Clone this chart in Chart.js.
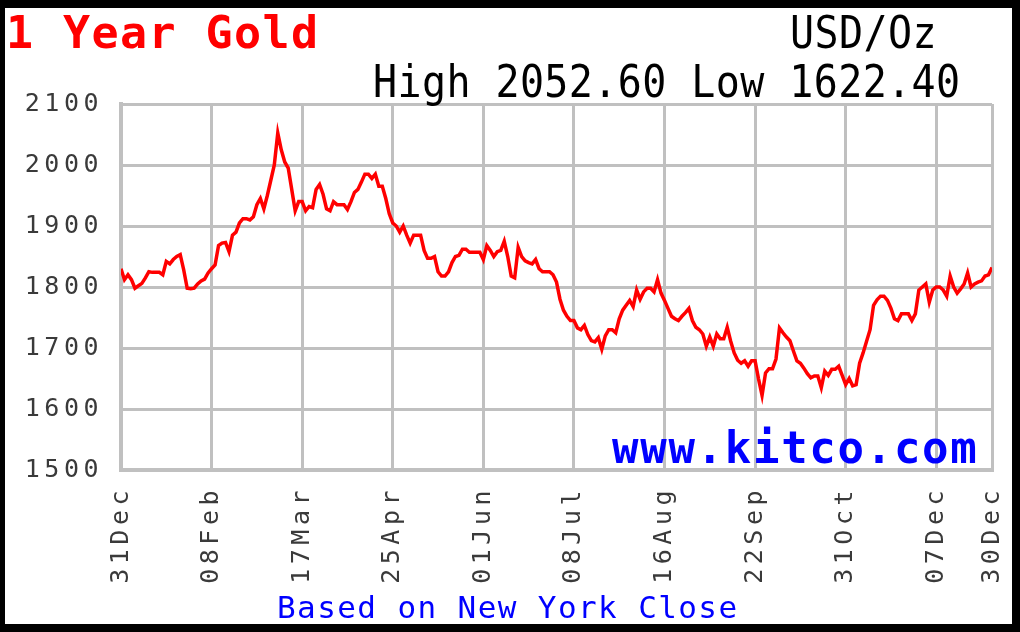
<!DOCTYPE html>
<html>
<head>
<meta charset="utf-8">
<script src="https://cdn.jsdelivr.net/npm/chart.js@4/dist/chart.umd.min.js"></script>
<style>
  html, body { margin: 0; padding: 0; background: #000; }
  #c { display: block; }
</style>
</head>
<body>
<canvas id="c" width="1020" height="632"></canvas>
<script>
// ---- data ----
const tickIndex  = [0, 26, 52, 78, 104, 130, 156, 182, 208, 234, 250];
const tickLabels = ['31Dec','08Feb','17Mar','25Apr','01Jun','08Jul','16Aug','22Sep','31Oct','07Dec','30Dec'];
const yMin = 1500, yMax = 2100, yStep = 100;

// daily close, USD/oz (one value per trading day, 31Dec .. 30Dec)
const prices = [
  1830,1812,1820,1812,1798,1802,1806,1815,1825,1824,
  1824,1824,1820,1842,1838,1845,1850,1853,1828,1798,
  1797,1798,1805,1810,1813,1823,1830,1836,1868,1872,
  1873,1858,1885,1890,1905,1912,1912,1910,1915,1935,
  1945,1928,1950,1975,2000,2052.6,2025,2005,1995,1960,
  1925,1940,1940,1925,1932,1930,1960,1968,1952,1928,
  1925,1940,1935,1935,1935,1927,1940,1955,1960,1972,
  1985,1985,1978,1985,1965,1965,1945,1920,1905,1900,
  1890,1900,1885,1872,1885,1885,1885,1860,1847,1847,
  1850,1825,1818,1818,1825,1840,1850,1852,1862,1862,
  1857,1857,1857,1857,1845,1868,1860,1850,1858,1860,
  1875,1850,1818,1815,1865,1850,1843,1840,1838,1845,
  1830,1825,1825,1825,1820,1808,1780,1762,1752,1745,
  1745,1733,1730,1737,1722,1712,1710,1717,1698,1720,
  1730,1730,1725,1748,1762,1770,1778,1768,1795,1780,
  1792,1798,1798,1792,1812,1790,1778,1765,1752,1748,
  1745,1752,1758,1765,1745,1734,1730,1723,1703,1718,
  1703,1723,1715,1715,1734,1711,1692,1680,1675,1679,
  1670,1679,1679,1649,1622.4,1659,1666,1666,1682,1733,
  1725,1718,1712,1695,1679,1675,1667,1658,1651,1654,
  1654,1635,1662,1655,1665,1665,1670,1655,1640,1650,
  1638,1640,1675,1692,1711,1730,1770,1779,1785,1785,
  1778,1765,1748,1745,1756,1756,1756,1745,1756,1795,
  1800,1805,1775,1795,1800,1800,1795,1785,1818,1800,
  1790,1797,1805,1823,1800,1805,1808,1810,1818,1820,
  1832
];

const titleText = '1 Year Gold';
const unitText = 'USD/Oz';
const siteText = 'www.kitco.com';
const footText = 'Based on New York Close';

const high = Math.max(...prices), low = Math.min(...prices);
const hiloText = 'High ' + high.toFixed(2) + ' Low ' + low.toFixed(2);

function drawText(ctx, text, x, y, font, color, spacing, sy) {
  ctx.save();
  ctx.letterSpacing = spacing + 'px';
  ctx.font = font;
  ctx.fillStyle = color;
  ctx.textAlign = 'left';
  ctx.textBaseline = 'alphabetic';
  ctx.translate(x, y);
  ctx.scale(1, sy || 1);
  ctx.fillText(text, 0, 0);
  ctx.restore();
}

const framePlugin = {
  id: 'frame',
  beforeDraw(chart) {
    const ctx = chart.ctx;
    ctx.save();
    ctx.fillStyle = '#000';
    ctx.fillRect(0, 0, 1020, 632);
    ctx.fillStyle = '#fff';
    ctx.fillRect(5, 8, 1007, 616);
    ctx.restore();
    ctx.letterSpacing = '4.5px';
  },
  afterDraw(chart) {
    const ctx = chart.ctx;
    ctx.letterSpacing = '0px';
    const mono = '"DejaVu Sans Mono", "Liberation Mono", monospace';
    drawText(ctx, titleText, 6, 48, 'bold 45px ' + mono, '#ff0000', 1.4, 1);
    drawText(ctx, unitText, 790, 48, '40px ' + mono, '#000', 0.4, 1.13);
    drawText(ctx, hiloText, 373, 97, '40px ' + mono, '#000', 0.4, 1.1);
    drawText(ctx, siteText, 612, 463, 'bold 44px ' + mono, '#0000ff', 1.7, 1);
    drawText(ctx, footText, 277, 618, '31px ' + mono, '#0000ff', 1.4, 1);
  }
};

const tickFont = { family: '"DejaVu Sans Mono", monospace', size: 25 };

new Chart(document.getElementById('c'), {
  type: 'line',
  data: {
    datasets: [{
      data: prices.map((v, i) => ({ x: i, y: v })),
      borderColor: '#ff0000',
      borderWidth: 3.5,
      pointRadius: 0,
      tension: 0,
      fill: false
    }]
  },
  options: {
    responsive: false,
    animation: false,
    devicePixelRatio: 1,
    layout: { padding: { top: 104, right: 28, bottom: 32, left: 0 } },
    plugins: { legend: { display: false }, tooltip: { enabled: false } },
    scales: {
      x: {
        type: 'linear',
        min: tickIndex[0],
        max: tickIndex[tickIndex.length - 1],
        afterBuildTicks: (s) => { s.ticks = tickIndex.map(v => ({ value: v })); },
        afterFit: (s) => { s.height = 130; s.paddingLeft = 0; s.paddingRight = 0; },
        ticks: {
          autoSkip: false,
          minRotation: 90,
          maxRotation: 90,
          padding: 16,
          color: '#3a3a3a',
          font: tickFont,
          callback: (v, i) => tickLabels[i]
        },
        grid: { color: '#c0c0c0', lineWidth: 3, drawTicks: false },
        border: { color: '#c0c0c0', width: 4 }
      },
      y: {
        min: yMin,
        max: yMax,
        afterFit: (s) => { s.width = 121; s.paddingTop = 0; s.paddingBottom = 0; },
        ticks: {
          stepSize: yStep,
          padding: 18,
          color: '#3a3a3a',
          font: tickFont,
          callback: (v) => String(v)
        },
        grid: { color: '#c0c0c0', lineWidth: 3, drawTicks: false },
        border: { color: '#c0c0c0', width: 4 }
      }
    }
  },
  plugins: [framePlugin]
});
</script>
</body>
</html>
